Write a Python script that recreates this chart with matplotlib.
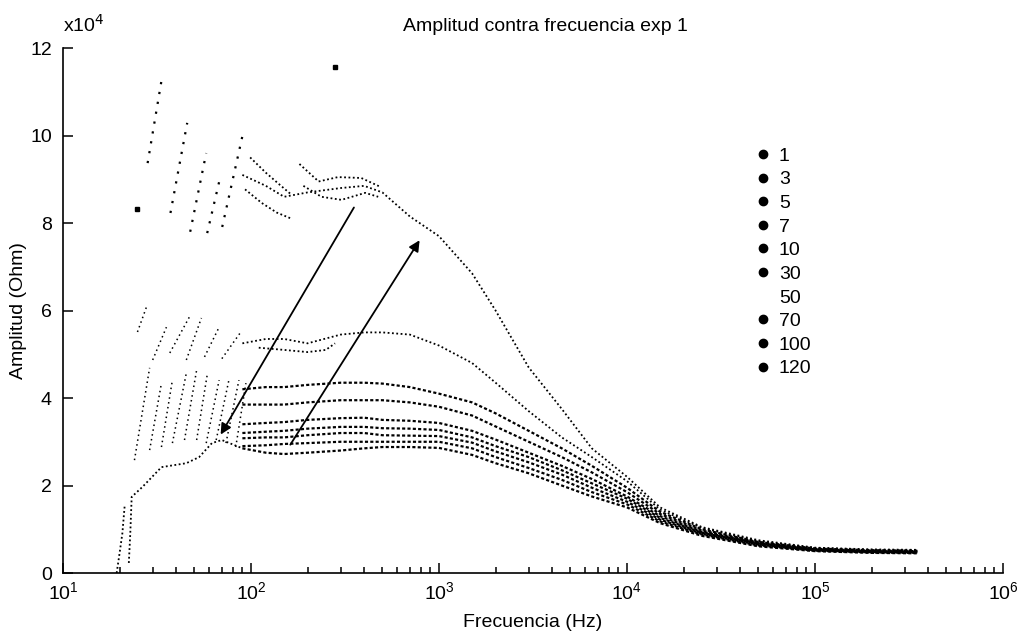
import numpy as np
import matplotlib.pyplot as plt
from matplotlib.lines import Line2D
from matplotlib.ticker import FuncFormatter, LogLocator, MultipleLocator

plt.rcParams['font.family'] = ['Liberation Sans', 'DejaVu Sans']

# Frecuencias (Hz) del tramo suave de cada curva
freq = [90, 120, 150, 200, 300, 400, 500, 700, 1000, 1500, 2000, 3000, 4500,
        6500, 10000, 15000, 25000, 50000, 100000, 200000, 350000]

# Amplitud (Ohm) de cada curva
amp_1 = [91000, 88500, 86000, 87000, 88000, 88500, 87000, 81500, 77000, 68500, 60000,
         47000, 37500, 28500, 22000, 15000, 10500, 7500, 5800, 5400, 5300]
amp_3 = [52500, 53500, 53500, 52500, 54500, 55000, 55000, 54500, 52000, 48000, 43500,
         37000, 31000, 26500, 21000, 14500, 10300, 7300, 5700, 5300, 5200]
amp_5 = [42000, 42500, 42500, 43000, 43500, 43500, 43300, 42500, 41000, 39000, 36500,
         32500, 28500, 24500, 19500, 14000, 10000, 7100, 5600, 5200, 5100]
amp_7 = [38500, 38500, 38500, 39000, 39500, 39500, 39500, 39000, 38000, 36000, 33500,
         30000, 26500, 23000, 18500, 13500, 9700, 7000, 5500, 5100, 5000]
amp_10 = [34000, 34300, 34500, 35000, 35400, 35500, 35000, 34800, 34300, 32500, 30500,
          27500, 24500, 21500, 17500, 13000, 9400, 6800, 5400, 5000, 4900]
amp_30 = [32000, 32300, 32500, 33000, 33400, 33400, 33100, 33000, 32700, 31000, 29000,
          26500, 23500, 20500, 17000, 12600, 9200, 6700, 5300, 4900, 4800]
amp_70 = [30800, 31000, 31000, 31500, 32000, 32000, 31500, 31400, 31300, 29800, 27800,
          25300, 22500, 19500, 16300, 12200, 9000, 6500, 5200, 4800, 4700]
amp_100 = [29000, 29200, 29500, 29700, 30000, 30000, 30000, 30000, 30000, 28500, 26500,
           24000, 21300, 18500, 15700, 11800, 8800, 6300, 5100, 4700, 4600]
amp_120 = [28500, 27500, 27200, 27500, 28000, 28500, 28800, 28800, 28600, 27000, 25100,
           22800, 20000, 17500, 15000, 11400, 8500, 6100, 5000, 4600, 4500]

# Filas extra de la curva superior entre 90 y 500 Hz (f, amp)
filas_1 = [
    ([99, 120, 140, 165], [95000, 91500, 89000, 86400]),
    ([93, 114, 137, 162], [87700, 84600, 82400, 81100]),
    ([181, 229, 290, 386, 492], [93500, 89500, 90500, 90300, 88200]),
    ([190, 237, 303, 405, 475], [88500, 86000, 85300, 86900, 86000]),
]
filas_3 = [
    ([110, 150, 200, 250, 280], [51500, 51000, 50500, 51000, 52500]),
]

# Dientes de baja frecuencia (f inicio, amp inicio, f fin, amp fin)
dientes_1 = [(28.2, 93700, 33.4, 112500), (37.3, 82300, 45.8, 102900),
             (47.5, 78000, 57.8, 96000), (58.5, 77700, 67.7, 89400),
             (70.3, 79100, 90.8, 100600)]
dientes_3 = [(24.9, 55100, 27.8, 60800), (30, 48700, 35.5, 56200),
             (37, 50300, 47, 58500), (45.3, 48700, 54.5, 58300),
             (56.6, 49400, 67.7, 56200), (70, 49000, 88, 55000)]
dientes_resto = [(24, 25800, 28.9, 46900), (28.9, 28100, 33.4, 43400),
                 (33.4, 28800, 38.2, 44100), (38.2, 29700, 45.3, 45700),
                 (44.3, 30400, 51.4, 46400), (51.4, 30400, 58.5, 45300),
                 (57.8, 29700, 67.7, 44100), (65.3, 30400, 76.3, 44100),
                 (73.6, 29700, 86.3, 44100), (83, 28800, 94, 43400)]

# Arranque de la curva inferior
inicio_120 = [
    ([19.3, 20.0, 20.7, 21.3], [0, 4500, 9100, 15500]),
    ([22.4, 22.8, 23.2, 26.5, 33.4, 45.3, 53, 62, 70, 90],
     [2300, 9000, 17400, 19700, 24200, 25100, 26500, 29700, 30400, 28500]),
]
sueltos = [(24.9, 83200), (281, 115700)]

labels = ['1', '3', '5', '7', '10', '30', '50', '70', '100', '120']

fig = plt.figure(figsize=(10.19, 6.34), dpi=100)
ax = fig.add_axes([0.0618, 0.0962, 0.9225, 0.828])

estilo = dict(color='k', lw=1.3, ls=(0, (1, 1.4)))
estilo_haz = dict(color='k', lw=1.6, ls=(0, (1.4, 1.0)))
for amp in [amp_1, amp_3]:
    ax.plot(freq, amp, **estilo)
for amp in [amp_5, amp_7, amp_10, amp_30, amp_70, amp_100, amp_120]:
    ax.plot(freq, amp, **estilo_haz)
for f, a in filas_1 + filas_3 + inicio_120:
    ax.plot(f, a, **estilo)
for f0, a0, f1, a1 in dientes_1:
    ax.plot([f0, f1], [a0, a1], color='k', lw=1.6, ls=(0, (1, 3.5)))
for f0, a0, f1, a1 in dientes_3 + dientes_resto:
    ax.plot([f0, f1], [a0, a1], color='k', lw=1.1, ls=(0, (1, 2.2)))
ax.plot([p[0] for p in sueltos], [p[1] for p in sueltos], 's', color='k', ms=2.5)

# flechas
ax.annotate('', xy=(67.8, 31100), xytext=(359, 84100),
            arrowprops=dict(arrowstyle='-|>', color='k', lw=1.3, mutation_scale=16))
ax.annotate('', xy=(803, 76600), xytext=(159, 28800),
            arrowprops=dict(arrowstyle='-|>', color='k', lw=1.3, mutation_scale=16))

ax.set_xscale('log')
ax.set_xlim(10, 1e6)
ax.set_ylim(0, 120000)
ax.yaxis.set_major_locator(MultipleLocator(20000))
ax.yaxis.set_major_formatter(FuncFormatter(lambda v, p: '%d' % round(v / 1e4)))
ax.xaxis.set_major_locator(LogLocator(base=10, numticks=10))
ax.xaxis.set_minor_locator(LogLocator(base=10, subs=np.arange(2, 10), numticks=10))
for s in ['top', 'right']:
    ax.spines[s].set_visible(False)
for s in ['left', 'bottom']:
    ax.spines[s].set_linewidth(1.2)
ax.tick_params(which='both', direction='in', labelsize=14, width=1.1)
ax.tick_params(which='major', length=7)
ax.tick_params(which='minor', length=4)
ax.tick_params(axis='y', pad=8)
ax.tick_params(axis='x', pad=6)

ax.set_title('Amplitud contra frecuencia exp 1', fontsize=14, x=0.513, pad=12)
ax.set_xlabel('Frecuencia (Hz)', fontsize=14, labelpad=8)
ax.set_ylabel('Amplitud (Ohm)', fontsize=14, labelpad=2)
fig.text(63 / 1019, 1 - 36 / 634, r'x10$^{4}$', fontsize=14, ha='left', va='bottom')

handles = [Line2D([], [], marker='o', ms=6, ls='none',
                  color='white' if lab == '50' else 'k') for lab in labels]
ax.legend(handles, labels, loc='upper left', bbox_to_anchor=(755.5 / 1019, 0.768),
          bbox_transform=fig.transFigure, frameon=False, fontsize=14,
          handlelength=0.8, handletextpad=0.4, labelspacing=0.31,
          borderpad=0, borderaxespad=0)

fig.savefig('out.png', dpi=100)
